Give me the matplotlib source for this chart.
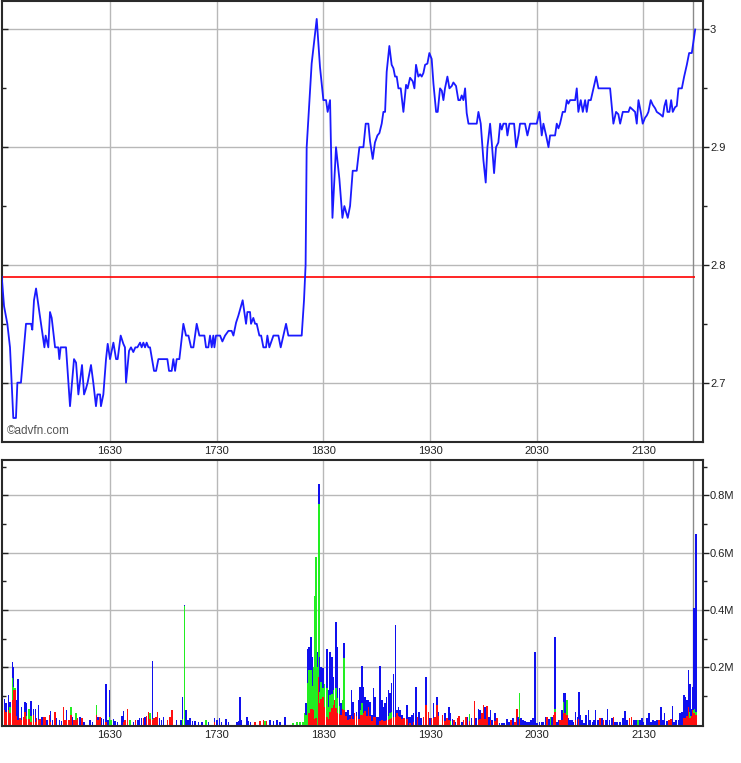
import numpy as np
import matplotlib
matplotlib.use("Agg")
import matplotlib.pyplot as plt
import matplotlib.lines as mlines

# ---------------- data ----------------
# time axis: minutes after 15:30
x_tick_minutes = [60, 120, 180, 240, 300, 360]
x_tick_labels = ["1630", "1730", "1830", "1930", "2030", "2130"]

price_minutes = [
    -0.9, 0.4, 2.25, 3.75, 5.6, 7.1, 7.9, 9.9, 12.75, 15.6,
    16.3, 17.25, 18.4, 20.25, 23.1, 23.8, 25.3, 26.25, 27.2, 29.1,
    30.9, 31.5, 32.25, 35.25, 37.5, 39.75, 40.9, 42.2, 44.25, 45.4,
    46.5, 47.4, 49.3, 50.6, 52.1, 52.9, 54.4, 54.9, 56.25, 57.75,
    58.7, 60, 61.9, 63.4, 64.3, 66, 67.5, 68.4, 69, 70.7,
    71.8, 73.1, 74.25, 75.4, 76.9, 77.8, 78.75, 79.7, 80.6, 81.6,
    82.5, 84.75, 85.9, 87.2, 92.25, 93.2, 94.7, 95.6, 96.6, 97.5,
    99, 101.25, 102.75, 104.1, 105.6, 106.9, 108.75, 110.25, 113.1, 114,
    115.3, 116.25, 117.2, 118.1, 118.7, 119.6, 121.9, 123.2, 124.7, 126.6,
    128.4, 129.4, 130.9, 132.2, 134.6, 136.5, 137.25, 138.75, 139.3, 140.6,
    141.6, 142.5, 144, 145, 146.25, 147.75, 148.5, 149.6, 151.9, 154.7,
    156, 157.5, 159, 160.3, 167.8, 169.1, 170, 170.6, 173.4, 176.25,
    178.1, 180, 181.5, 182.4, 183.75, 185.1, 187.1, 189, 190.7, 191.8,
    193.7, 195, 196.5, 198.75, 200.25, 202.5, 203.8, 205.3, 206.25, 207.75,
    209, 210.4, 211.5, 212.8, 213.75, 214.7, 215.6, 217.1, 218.4, 219.4,
    220.3, 221.25, 222.2, 223.5, 225, 226.5, 227.4, 228.75, 230.25, 231.2,
    232.1, 233.4, 234.4, 235.3, 236.25, 237.2, 238.5, 239.6, 240.9, 241.9,
    243.4, 244.3, 245.6, 246.6, 247.5, 248.4, 249.75, 250.9, 252.2, 253.1,
    254.6, 255.9, 256.9, 257.8, 258.75, 259.7, 260.6, 261.6, 266.25, 267.2,
    268.5, 270, 271.3, 272.25, 273.75, 274.7, 276, 277.1, 278.4, 279.4,
    280.3, 281.25, 282.75, 283.5, 284.6, 287.25, 288.4, 289.7, 290.6, 293.4,
    294.75, 296.25, 300, 301.5, 302.8, 303.75, 305.25, 306.6, 307.5, 310.3,
    311.25, 312.2, 313.1, 314.6, 315.9, 316.9, 317.8, 318.75, 320.25, 321.6,
    322.5, 323.4, 324.75, 325.9, 327.2, 328.1, 329.1, 330.4, 331.9, 333.4,
    334.7, 341.25, 343.1, 344.6, 345.9, 346.9, 348.4, 351.6, 352.5, 355.3,
    356.25, 357.2, 358.5, 359.6, 360.9, 361.9, 362.8, 364.1, 365.25, 366.6,
    367.5, 369.4, 370.9, 371.8, 372.75, 373.5, 374.6, 375.6, 376.5, 377.8,
    378.75, 379.7, 381.6, 382.9, 384.4, 385.7, 387.2, 389.1,
]
price_values = [
    2.79, 2.765, 2.75, 2.73, 2.67, 2.67, 2.70, 2.70, 2.75, 2.75,
    2.745, 2.77, 2.78, 2.76, 2.73, 2.74, 2.73, 2.76, 2.755, 2.73,
    2.73, 2.72, 2.73, 2.73, 2.68, 2.72, 2.717, 2.69, 2.715, 2.69,
    2.695, 2.70, 2.715, 2.70, 2.68, 2.69, 2.69, 2.68, 2.69, 2.72,
    2.733, 2.72, 2.734, 2.72, 2.72, 2.74, 2.733, 2.73, 2.70, 2.727,
    2.73, 2.726, 2.73, 2.73, 2.734, 2.73, 2.734, 2.73, 2.734, 2.73,
    2.73, 2.71, 2.71, 2.72, 2.72, 2.71, 2.71, 2.72, 2.71, 2.72,
    2.72, 2.75, 2.74, 2.74, 2.73, 2.73, 2.75, 2.74, 2.74, 2.73,
    2.73, 2.74, 2.73, 2.74, 2.73, 2.74, 2.74, 2.735, 2.74, 2.744,
    2.744, 2.74, 2.751, 2.757, 2.77, 2.75, 2.76, 2.76, 2.75, 2.755,
    2.75, 2.75, 2.74, 2.74, 2.73, 2.73, 2.74, 2.73, 2.74, 2.74,
    2.73, 2.74, 2.75, 2.74, 2.74, 2.77, 2.80, 2.90, 2.971, 3.009,
    2.968, 2.94, 2.94, 2.93, 2.94, 2.84, 2.90, 2.873, 2.84, 2.85,
    2.84, 2.85, 2.88, 2.88, 2.90, 2.90, 2.92, 2.92, 2.905, 2.89,
    2.904, 2.91, 2.912, 2.92, 2.93, 2.93, 2.964, 2.986, 2.97, 2.967,
    2.96, 2.96, 2.95, 2.95, 2.93, 2.953, 2.95, 2.959, 2.956, 2.95,
    2.97, 2.96, 2.962, 2.96, 2.963, 2.97, 2.971, 2.98, 2.975, 2.954,
    2.93, 2.93, 2.95, 2.948, 2.94, 2.95, 2.96, 2.95, 2.952, 2.955,
    2.952, 2.94, 2.94, 2.944, 2.94, 2.95, 2.929, 2.92, 2.92, 2.93,
    2.92, 2.889, 2.87, 2.90, 2.92, 2.904, 2.878, 2.90, 2.904, 2.92,
    2.915, 2.92, 2.92, 2.91, 2.92, 2.92, 2.90, 2.91, 2.92, 2.92,
    2.91, 2.92, 2.92, 2.93, 2.91, 2.92, 2.91, 2.90, 2.91, 2.91,
    2.92, 2.916, 2.92, 2.93, 2.93, 2.94, 2.937, 2.94, 2.94, 2.94,
    2.95, 2.93, 2.94, 2.93, 2.94, 2.93, 2.94, 2.94, 2.95, 2.96,
    2.95, 2.95, 2.92, 2.93, 2.928, 2.92, 2.93, 2.93, 2.934, 2.93,
    2.92, 2.94, 2.93, 2.92, 2.925, 2.927, 2.93, 2.94, 2.936, 2.933,
    2.93, 2.928, 2.926, 2.935, 2.94, 2.93, 2.93, 2.94, 2.93, 2.934,
    2.935, 2.95, 2.95, 2.96, 2.97, 2.98, 2.98, 3.00,
]
previous_close = 2.79
now_minute = 388

# volume rows: (minute, red K, green K, blue K) - stacked red / green / blue
volume_open = [
    (0.6, 51, 0, 37), (1.5, 45, 0, 29), (2.8, 51, 0, 52), (3.75, 40, 20, 20),
    (5.1, 85, 76, 58), (5.8, 120, 12, 70), (6.6, 120, 6, 0), (7.5, 30, 0, 55),
    (8.4, 16, 0, 142), (9.4, 22, 0, 0), (10.3, 16, 0, 46), (11.25, 27, 0, 0),
    (12.2, 45, 0, 35), (13.1, 20, 10, 46), (14.1, 22, 0, 0), (14.6, 20, 36, 0),
    (15.6, 10, 20, 53), (16.9, 33, 0, 23), (18, 10, 0, 46), (18.75, 22, 0, 0),
    (19.7, 16, 0, 52), (20.6, 18, 0, 0), (21.6, 0, 0, 27), (22.5, 27, 0, 0),
    (23.4, 27, 0, 0), (24.4, 0, 0, 16), (25.9, 33, 0, 0), (26.6, 10, 0, 38),
    (27.6, 0, 0, 16), (29.1, 45, 0, 0), (30, 0, 0, 22), (31.5, 0, 0, 16),
    (32.8, 0, 0, 13), (33.75, 62, 0, 0), (34.7, 16, 0, 0), (35.6, 16, 0, 34),
    (36.9, 16, 0, 0), (37.9, 33, 29, 0), (39, 0, 0, 27), (39.75, 16, 0, 0),
    (40.9, 16, 23, 0), (41.8, 22, 0, 0), (43.1, 0, 0, 25), (44.1, 22, 0, 0),
    (45.4, 0, 0, 10), (48.75, 0, 0, 16), (50.25, 0, 0, 10), (52.5, 33, 37, 0),
    (53.4, 16, 0, 11), (54.4, 25, 0, 0), (55.3, 0, 0, 22), (56.25, 0, 0, 18),
    (57.75, 8, 0, 133), (58.7, 0, 0, 16), (59.6, 0, 27, 93), (60.6, 0, 16, 0),
    (61.9, 0, 0, 18), (62.8, 0, 0, 12), (64.1, 0, 0, 10), (66.6, 0, 0, 30),
    (67.5, 8, 0, 40), (68.4, 16, 0, 0), (69.75, 56, 0, 0), (71.25, 0, 16, 0),
    (73.1, 0, 0, 10), (74.4, 16, 0, 0), (75.6, 0, 0, 16), (76.5, 0, 0, 22),
    (77.8, 0, 0, 22), (78.75, 22, 0, 0), (79.7, 0, 0, 27), (80.6, 30, 0, 0),
    (81.6, 45, 0, 0), (82.5, 20, 19, 0), (83.8, 15, 5, 202), (84.9, 22, 0, 0),
    (85.9, 27, 0, 0), (86.6, 45, 0, 0), (87.75, 0, 0, 22), (89, 0, 0, 16),
    (90, 0, 0, 25), (92.4, 16, 0, 0), (93.75, 27, 0, 0), (95, 51, 0, 0),
    (97.5, 0, 0, 16), (100, 0, 0, 16), (100.7, 0, 20, 77), (101.8, 0, 412, 5),
    (102.75, 0, 0, 50), (104, 0, 0, 16), (105, 0, 0, 22), (106.5, 0, 0, 12),
    (107.8, 0, 0, 12), (109.7, 0, 0, 10), (111.6, 0, 0, 10), (114, 0, 16, 0),
    (115.3, 0, 0, 10), (118.7, 10, 0, 12), (120, 0, 0, 16), (121.5, 0, 0, 22),
    (122.8, 0, 0, 10), (125.25, 0, 0, 18), (126.6, 0, 0, 10), (131.25, 0, 0, 10),
    (132.2, 0, 0, 13), (133.1, 0, 0, 97), (134, 0, 0, 16), (136.9, 0, 0, 25),
    (137.8, 0, 0, 12), (139.1, 0, 0, 10), (141.6, 10, 0, 0), (144.4, 12, 0, 0),
    (146.25, 16, 0, 0), (147.2, 0, 13, 0), (148.1, 13, 0, 0), (150, 0, 0, 16),
    (151.9, 0, 0, 12), (153.75, 0, 0, 16), (155.6, 0, 0, 10), (158.4, 0, 0, 25),
    (163, 0, 6, 0), (165, 0, 10, 0), (166.9, 0, 10, 0), (168.4, 0, 10, 0),
    (169.7, 0, 39, 0),
]
volume_surge = [
    (170.25, 0, 34, 40), (171, 0, 145, 120), (172, 40, 150, 80), (173.1, 56, 134, 116),
    (173.8, 56, 80, 100), (174.4, 52, 150, 0), (175.1, 20, 430, 0), (175.9, 23, 560, 0),
    (176.6, 0, 200, 54), (177.5, 167, 604, 70), (177.9, 74, 40, 123), (178.8, 90, 60, 52),
    (179.8, 97, 30, 69), (180.7, 60, 83, 0), (181.9, 28, 100, 137), (182.8, 20, 40, 60),
    (183.75, 44, 60, 150), (184.9, 57, 50, 130), (185.6, 70, 50, 47), (186.6, 85, 0, 0),
    (187.1, 59, 70, 230), (187.9, 41, 50, 180), (189, 36, 30, 60), (189.75, 34, 0, 40),
    (190.9, 55, 30, 0), (191.6, 50, 181, 52), (192.75, 30, 0, 15), (194, 16, 0, 35),
    (194.9, 20, 0, 13), (195.75, 30, 0, 90), (196.7, 20, 0, 60), (197.6, 39, 0, 0),
    (198.6, 30, 0, 15), (199.9, 20, 0, 65), (200.6, 32, 20, 80), (201.6, 34, 40, 130),
    (202.5, 42, 0, 90), (203.4, 47, 0, 50), (204.4, 30, 0, 55), (205.3, 60, 0, 25),
    (206.25, 30, 0, 50), (207.2, 13, 0, 20), (208.1, 26, 0, 100), (209.1, 27, 0, 70),
    (210, 0, 0, 27), (210.9, 0, 0, 27), (211.9, 14, 0, 190), (212.8, 15, 0, 70),
    (213.75, 12, 0, 50), (214.7, 14, 0, 60), (215.6, 17, 0, 80), (216.6, 15, 15, 90),
    (217.5, 19, 20, 70), (218.4, 24, 20, 100), (219.4, 28, 0, 150), (220.5, 27, 0, 320),
    (221.25, 40, 0, 11), (222.2, 30, 0, 32), (223.1, 25, 0, 26), (224.1, 20, 0, 13),
    (225.4, 22, 0, 0), (226.9, 18, 0, 50), (227.8, 0, 0, 27), (228.75, 7, 0, 20),
    (229.7, 0, 0, 33), (230.6, 9, 0, 30), (232.1, 0, 0, 132), (232.9, 27, 0, 0),
    (233.8, 0, 0, 45), (234.75, 0, 0, 22), (236.25, 27, 0, 0), (237.75, 70, 0, 97),
    (239.1, 45, 0, 0), (240, 0, 0, 22), (240.9, 22, 0, 0), (241.9, 24, 0, 50),
    (242.8, 27, 0, 0), (243.75, 68, 0, 27), (244.7, 30, 0, 15),
]
volume_late = [
    (246.9, 33, 0, 0), (248.4, 12, 0, 30), (249.4, 22, 0, 0), (250.5, 15, 0, 45),
    (251.6, 0, 14, 25), (252.6, 0, 0, 18), (253.5, 16, 0, 0), (254.4, 0, 0, 10),
    (255.4, 24, 0, 0), (256.3, 30, 0, 0), (257.8, 0, 0, 10), (258.75, 16, 0, 0),
    (260.25, 27, 0, 0), (261, 0, 0, 25), (262.1, 12, 25, 0), (263.4, 0, 0, 22),
    (264.9, 82, 0, 0), (265.9, 0, 0, 22), (267.2, 16, 0, 40), (268.1, 20, 0, 30),
    (269.1, 41, 0, 0), (270, 68, 0, 0), (270.9, 20, 0, 40), (271.9, 65, 0, 0),
    (273, 0, 0, 27), (274.1, 15, 0, 35), (275, 0, 0, 16), (276.6, 14, 0, 25),
    (277.5, 22, 0, 0), (279, 0, 0, 6), (280.3, 0, 0, 4), (281.6, 0, 0, 4),
    (283.1, 0, 0, 18), (284.25, 0, 0, 10), (285.4, 16, 0, 0), (286.5, 0, 0, 22),
    (287.8, 10, 0, 0), (288.75, 56, 0, 0), (289.5, 0, 0, 27), (290.25, 19, 90, 0),
    (291.2, 0, 0, 24), (292.1, 0, 0, 16), (293.4, 0, 0, 12), (294.4, 0, 0, 10),
    (295.7, 0, 0, 10), (296.8, 0, 0, 16), (297.75, 0, 0, 22), (298.9, 0, 0, 252),
    (300, 0, 0, 6), (301.5, 0, 0, 10), (302.8, 0, 0, 10), (303.75, 0, 0, 10),
    (304.9, 0, 0, 25), (305.6, 27, 0, 0), (306.75, 0, 0, 18), (307.7, 0, 27, 0),
    (308.6, 0, 0, 27), (309.4, 33, 0, 0), (310.1, 45, 10, 251), (311.25, 0, 0, 10),
    (312.2, 0, 0, 16), (313.1, 16, 0, 0), (314.1, 15, 0, 35), (315, 40, 40, 29),
    (315.9, 41, 0, 70), (316.9, 35, 50, 0), (317.8, 0, 0, 22), (318.75, 0, 0, 16),
    (319.7, 0, 0, 16), (320.6, 0, 0, 10), (321.9, 15, 0, 30), (322.9, 0, 0, 27),
    (323.6, 20, 0, 94), (324.4, 0, 0, 33), (325.3, 0, 0, 16), (326.6, 0, 0, 6),
    (327.75, 0, 0, 33), (329, 0, 0, 50), (330, 0, 0, 16), (331.3, 0, 0, 10),
    (332.25, 0, 0, 16), (333, 0, 0, 50), (334.3, 0, 0, 16), (335.6, 22, 0, 0),
    (336.6, 0, 0, 22), (337.5, 16, 0, 0), (338.8, 0, 0, 16), (339.9, 0, 0, 56),
    (340.9, 0, 0, 16), (342.2, 0, 0, 22), (343.1, 27, 0, 0), (344.1, 0, 0, 10),
    (345, 0, 0, 10), (346.9, 0, 0, 10), (348.4, 0, 0, 22), (349.7, 0, 0, 48),
    (350.6, 0, 0, 16), (352.1, 22, 0, 0), (353.4, 27, 0, 0), (354.75, 0, 0, 16),
    (355.9, 0, 0, 16), (356.8, 0, 16, 0), (358.1, 0, 0, 16), (359.1, 0, 0, 22),
    (360, 0, 0, 10), (361.9, 0, 0, 22), (363, 0, 0, 39), (364.1, 0, 0, 10),
    (365.25, 0, 0, 16), (366.6, 0, 0, 13), (367.5, 0, 0, 16), (368.8, 16, 0, 0),
    (369.75, 0, 0, 62), (370.9, 0, 0, 16), (371.8, 0, 0, 39), (373.1, 0, 0, 12),
    (374.4, 16, 0, 0), (375.4, 18, 0, 0), (376.3, 0, 0, 66), (377.25, 0, 0, 10),
    (378.4, 0, 0, 16), (379.7, 0, 0, 16), (380.6, 0, 0, 39), (381.6, 0, 0, 45),
    (382.9, 23, 0, 80), (383.4, 22, 0, 75), (384.4, 30, 0, 55), (385.3, 62, 0, 130),
    (386.25, 23, 20, 100), (386.8, 30, 0, 26), (387.75, 52, 0, 80), (388.5, 40, 15, 350),
    (389.6, 35, 10, 620),
]

price_ticks = [2.7, 2.8, 2.9, 3.0]
price_tick_labels = ["2.7", "2.8", "2.9", "3"]
price_minor_ticks = [2.75, 2.85, 2.95]
vol_ticks = [200000, 400000, 600000, 800000]
vol_tick_labels = ["0.2M", "0.4M", "0.6M", "0.8M"]
vol_minor_ticks = [100000, 300000, 500000, 700000, 900000]

# ---------------- figure ----------------
plt.rcParams['font.family'] = ['Liberation Sans', 'DejaVu Sans']
W, H = 741, 763
fig = plt.figure(figsize=(W / 100, H / 100), dpi=100)
fig.patch.set_facecolor("white")

ax1 = fig.add_axes([2 / W, 321 / H, 701 / W, 441 / H])
ax2 = fig.add_axes([2 / W, 37 / H, 701 / W, 266 / H])

grid_col = "#b8b8b8"
spine_col = "#2a2a2a"
xlim = (-0.75, 393.5)

for ax in (ax1, ax2):
    ax.set_xlim(*xlim)
    ax.set_xticks(x_tick_minutes)
    ax.set_xticklabels(x_tick_labels)
    ax.tick_params(axis="x", length=0, pad=3, labelsize=8, colors="#202020")
    ax.tick_params(axis="y", which="both", left=True, right=True,
                   labelleft=False, labelright=True, direction="out",
                   labelsize=8, colors="#202020", pad=1)
    ax.tick_params(axis="y", which="major", length=4, width=1)
    ax.tick_params(axis="y", which="minor", length=3, width=1)
    ax.grid(True, which="major", color=grid_col, linewidth=1.0)
    ax.set_axisbelow(True)
    for s in ax.spines.values():
        s.set_color(spine_col)
        s.set_linewidth(1.5)
    ax.axvline(now_minute, color="#8a8a8a", linewidth=1.0, zorder=1)

# price panel
ax1.set_ylim(2.6496, 3.0242)
ax1.set_yticks(price_ticks)
ax1.set_yticklabels(price_tick_labels)
ax1.set_yticks(price_minor_ticks, minor=True)
ax1.hlines(previous_close, price_minutes[0], price_minutes[-1],
           color="#ff0000", linewidth=1.2, zorder=2)
ax1.plot(price_minutes, price_values, color="#1a1aff", linewidth=1.3, zorder=3)
ax1.text(0.007, 0.026, "\u00a9advfn.com", transform=ax1.transAxes,
         fontsize=8.5, color="#555555", va="center", ha="left")

# volume panel
rows = np.array(volume_open + volume_surge + volume_late, dtype=float)
vt = rows[:, 0]
vr = rows[:, 1] * 1000
vg = rows[:, 2] * 1000
vb = rows[:, 3] * 1000
bw = 0.9
ax2.bar(vt, vr, width=bw, color="#ff1010", linewidth=0, zorder=3, antialiased=False)
ax2.bar(vt, vg, width=bw, bottom=vr, color="#22ee22", linewidth=0, zorder=3, antialiased=False)
ax2.bar(vt, vb, width=bw, bottom=vr + vg, color="#1010ee", linewidth=0, zorder=3, antialiased=False)
ax2.set_ylim(-5000, 923000)
ax2.set_yticks(vol_ticks)
ax2.set_yticklabels(vol_tick_labels)
ax2.set_yticks(vol_minor_ticks, minor=True)

# left-side ticks point inward
fig.canvas.draw()
for ax in (ax1, ax2):
    for t in ax.yaxis.get_major_ticks() + ax.yaxis.get_minor_ticks():
        t.tick1line.set_marker(mlines.TICKRIGHT)

fig.savefig("out.png", dpi=100, facecolor="white")
